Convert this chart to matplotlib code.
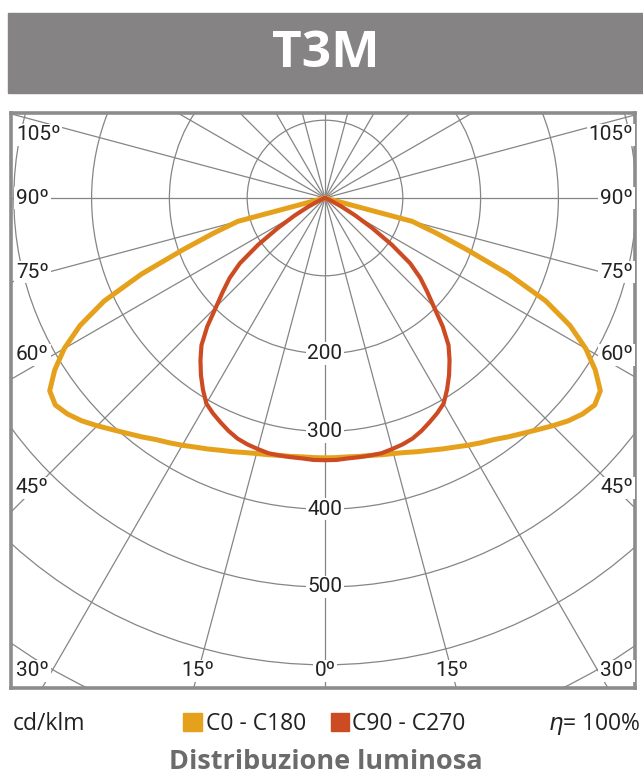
import numpy as np
import matplotlib
matplotlib.use('Agg')
import matplotlib.pyplot as plt
from matplotlib.patches import Circle, Rectangle


# luminous intensity (cd/klm) against angle from nadir, one half of each plane
gamma    = [0, 2.5, 5, 7.5, 10, 12.5, 15, 17.5, 20, 22.5, 25, 27.5, 30, 32.5, 35, 37.5,
            40, 42.5, 45, 47.5, 50, 52.5, 55, 57.5, 60, 62.5, 65, 67.5, 70, 72.5, 75, 77.5, 80, 90]
c0_c180  = [334, 334, 334, 335, 336, 338, 340, 343, 347, 351, 356, 361, 367, 373, 379, 387,
            395, 404, 414, 424, 432, 437, 432, 412, 387, 355, 313, 255, 194, 150, 116, 0, 0, 0]
c90_c270 = [337, 337, 336, 336, 336, 336, 334, 332, 329, 324, 318, 312, 305, 292, 278, 263,
            247, 224, 198, 178, 160, 138, 105, 72, 45, 24, 10, 3, 0, 0, 0, 0, 0, 0]

rings       = [100, 200, 300, 400, 500, 600, 700, 800]
ring_labels = [200, 300, 400, 500]
spokes      = np.arange(0, 360, 15)

title      = 'T3M'
series     = ['C0 - C180', 'C90 - C270']
colors     = ['#E6A11C', '#CD4B23']
unit       = 'cd/klm'
efficiency = r'$\mathit{\eta}$= 100%'
caption    = 'Distribuzione luminosa'

W, H = 643, 776
S = 0.778                 # px per cd/klm
cx, cy = 325, 198         # pole position in px
box = (11, 113, 635, 688) # left, top, right, bottom in px

def fx(px): return px / W
def fy(py): return 1 - py / H
def dx(px): return (px - cx) / S
def dy(py): return (cy - py) / S


fig = plt.figure(figsize=(W/100, H/100), dpi=100)

# title bar
fig.patches.append(Rectangle((fx(8), fy(93)), fx(643) - fx(8), fy(13) - fy(93),
                             transform=fig.transFigure, color='#858383', zorder=0))
fig.text(fx(326), fy(54), title, ha='center', va='center', color='white',
         fontsize=37, fontweight='bold', family='Open Sans')

# polar diagram on plain axes, y pointing up, nadir downwards
ax = fig.add_axes([fx(box[0]), fy(box[3]), fx(box[2]) - fx(box[0]), fy(box[1]) - fy(box[3])])
ax.set_xlim(dx(box[0]), dx(box[2]))
ax.set_ylim(dy(box[3]), dy(box[1]))
ax.set_xticks([])
ax.set_yticks([])
for sp in ax.spines.values():
    sp.set_color('#8c8c8c')
    sp.set_linewidth(2.6)

grid_col = '#858585'
for r in rings:
    ax.add_patch(Circle((0, 0), r, fill=False, ec=grid_col, lw=0.9, zorder=1))
for a in spokes:
    t = np.radians(a)
    ax.plot([0, 1000*np.sin(t)], [0, -1000*np.cos(t)], color=grid_col, lw=0.9, zorder=1)

# curves, mirrored about the nadir
g = np.radians(np.array(gamma))
full_g = np.concatenate([-g[::-1], g[1:]])
for vals, col, lw, z in [(c0_c180, colors[0], 3.6, 3), (c90_c270, colors[1], 3.0, 4)]:
    v = np.array(vals, dtype=float)
    full_v = np.concatenate([v[::-1], v[1:]])
    ax.plot(full_v*np.sin(full_g), -full_v*np.cos(full_g), color=col, lw=lw,
            solid_joinstyle='round', solid_capstyle='round', zorder=z)

# labels
lab = dict(fontsize=15, color='#222222', family='Roboto', zorder=5,
           bbox=dict(boxstyle='square,pad=0.08', fc='white', ec='none'))
for v in ring_labels:
    ax.text(0, -v, str(v), ha='center', va='center', **lab)

side = [('105º', 135), ('90º', 198), ('75º', 272), ('60º', 355), ('45º', 488), ('30º', 671)]
for txt, py in side:
    ax.text(dx(16), dy(py), txt, ha='left', va='center', **lab)
    ax.text(dx(633), dy(py), txt, ha='right', va='center', **lab)
off = (671 - cy) * np.tan(np.radians(15))
ax.text(dx(cx - off), dy(671), '15º', ha='center', va='center', **lab)
ax.text(dx(cx + off), dy(671), '15º', ha='center', va='center', **lab)
ax.text(0, dy(671), '0º', ha='center', va='center', **lab)

# legend row
leg = dict(fontsize=16.5, color='#222222', family='Open Sans', va='baseline')
fig.text(fx(13), fy(730), unit, ha='left', **leg)
fig.patches.append(Rectangle((fx(183), fy(731)), fx(19), 18/H, transform=fig.transFigure,
                             color=colors[0]))
fig.text(fx(206), fy(730), series[0], ha='left', **leg)
fig.patches.append(Rectangle((fx(331), fy(731)), fx(18), 18/H, transform=fig.transFigure,
                             color=colors[1]))
fig.text(fx(352), fy(730), series[1], ha='left', **leg)
fig.text(fx(641), fy(730), efficiency, ha='right', **leg)

fig.text(fx(326), fy(769), caption, ha='center', va='baseline', fontsize=19.5,
         fontweight='bold', color='#6b6b6b', family='Open Sans')

fig.savefig('out.png', dpi=100)
